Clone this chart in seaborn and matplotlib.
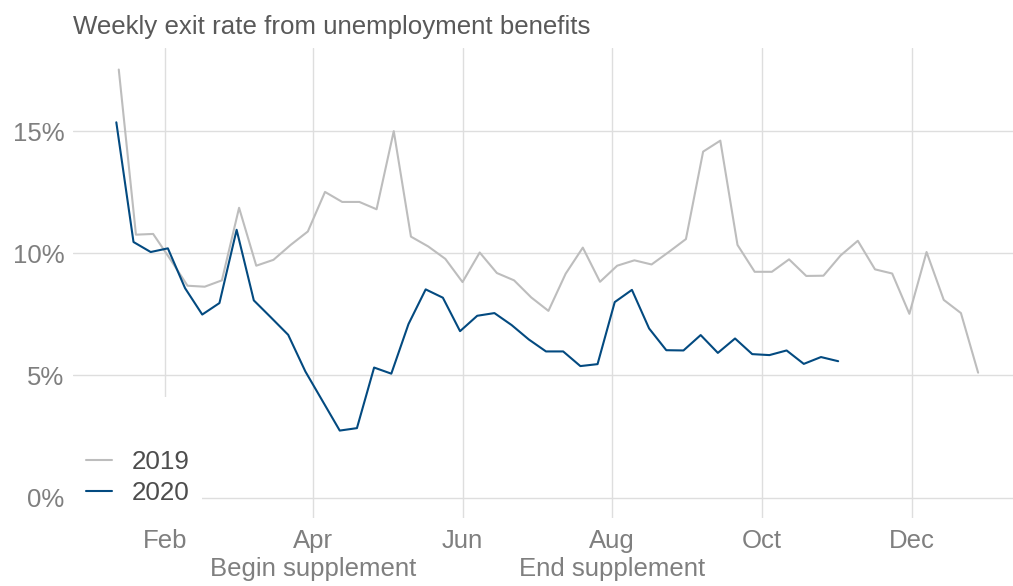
import numpy as np
import pandas as pd
import matplotlib.pyplot as plt
import matplotlib.dates as mdates
import seaborn as sns

# weekly exit rate (%)
rate_2019 = [17.52, 10.76, 10.79, 9.75, 8.67, 8.63, 8.89, 11.86, 9.49, 9.73,
             10.34, 10.89, 12.51, 12.10, 12.10, 11.80, 15.00, 10.68, 10.28, 9.77,
             8.82, 10.03, 9.19, 8.89, 8.19, 7.64, 9.16, 10.23, 8.83, 9.49,
             9.71, 9.54, 10.05, 10.58, 14.16, 14.61, 10.34, 9.24, 9.24, 9.75,
             9.07, 9.08, 9.91, 10.51, 9.34, 9.17, 7.52, 10.05, 8.09, 7.55,
             5.11]
rate_2020 = [15.36, 10.46, 10.05, 10.20, 8.57, 7.49, 7.96, 10.96, 8.07, 7.37,
             6.66, 5.16, 3.95, 2.74, 2.84, 5.32, 5.07, 7.10, 8.52, 8.18,
             6.81, 7.44, 7.55, 7.06, 6.47, 5.98, 5.98, 5.38, 5.46, 8.00,
             8.50, 6.92, 6.03, 6.02, 6.65, 5.92, 6.51, 5.87, 5.83, 6.02,
             5.47, 5.75, 5.58]

# both years drawn on a common calendar axis
weeks_2019 = pd.date_range("2020-01-13", periods=len(rate_2019), freq="7D")
weeks_2020 = pd.date_range("2020-01-12", periods=len(rate_2020), freq="7D")

tick_dates = pd.to_datetime(["2020-02-01", "2020-04-01", "2020-06-01",
                             "2020-08-01", "2020-10-01", "2020-12-01"])
tick_labels = ["Feb", "Apr\nBegin supplement", "Jun",
               "Aug\nEnd supplement", "Oct", "Dec"]
y_ticks = [0, 5, 10, 15]

df = pd.concat([
    pd.DataFrame({"week": weeks_2019, "rate": rate_2019, "year": "2019"}),
    pd.DataFrame({"week": weeks_2020, "rate": rate_2020, "year": "2020"}),
])

sns.set_style("white")
plt.rcParams["font.family"] = ["Liberation Sans", "DejaVu Sans"]

fig = plt.figure(figsize=(10.13, 5.86), dpi=100)
ax = fig.add_axes([0.072, 0.116, 0.928, 0.802])

sns.lineplot(data=df, x="week", y="rate", hue="year",
             palette={"2019": "#BDBDBD", "2020": "#034A80"},
             linewidth=1.5, ax=ax, zorder=3)

ax.set_xlim(pd.Timestamp("2019-12-25 08:00"), pd.Timestamp("2021-01-11 05:00"))
ax.set_ylim(-0.84, 18.4)

ax.set_xticks(tick_dates)
ax.set_xticklabels(tick_labels, ha="center", multialignment="center",
                   linespacing=1.2)
ax.set_yticks(y_ticks)
ax.set_yticklabels([f"{v}%" for v in y_ticks])
ax.tick_params(axis="both", length=0, labelsize=18.5, colors="#7F7F7F")
ax.tick_params(axis="x", pad=8)
ax.tick_params(axis="y", pad=6)

ax.grid(True, color="#DEDEDE", linewidth=1.0)
ax.set_axisbelow(True)
for s in ax.spines.values():
    s.set_visible(False)

ax.set_xlabel("")
ax.set_ylabel("")
ax.set_title("Weekly exit rate from unemployment benefits", loc="left",
             fontsize=18.6, color="#595959", pad=10)

handles, labels = ax.get_legend_handles_labels()
leg = ax.legend(handles, labels, loc="lower left", bbox_to_anchor=(0, 0),
                borderaxespad=0, frameon=True, facecolor="white",
                edgecolor="none", framealpha=1, fontsize=18.7,
                handlelength=1.0, handletextpad=0.75, borderpad=0.5,
                labelspacing=0.28, title=" ", title_fontsize=25)
for t in leg.get_texts():
    t.set_color("#4D4D4D")
leg.set_zorder(2)

fig.savefig("out.png", dpi=100)
